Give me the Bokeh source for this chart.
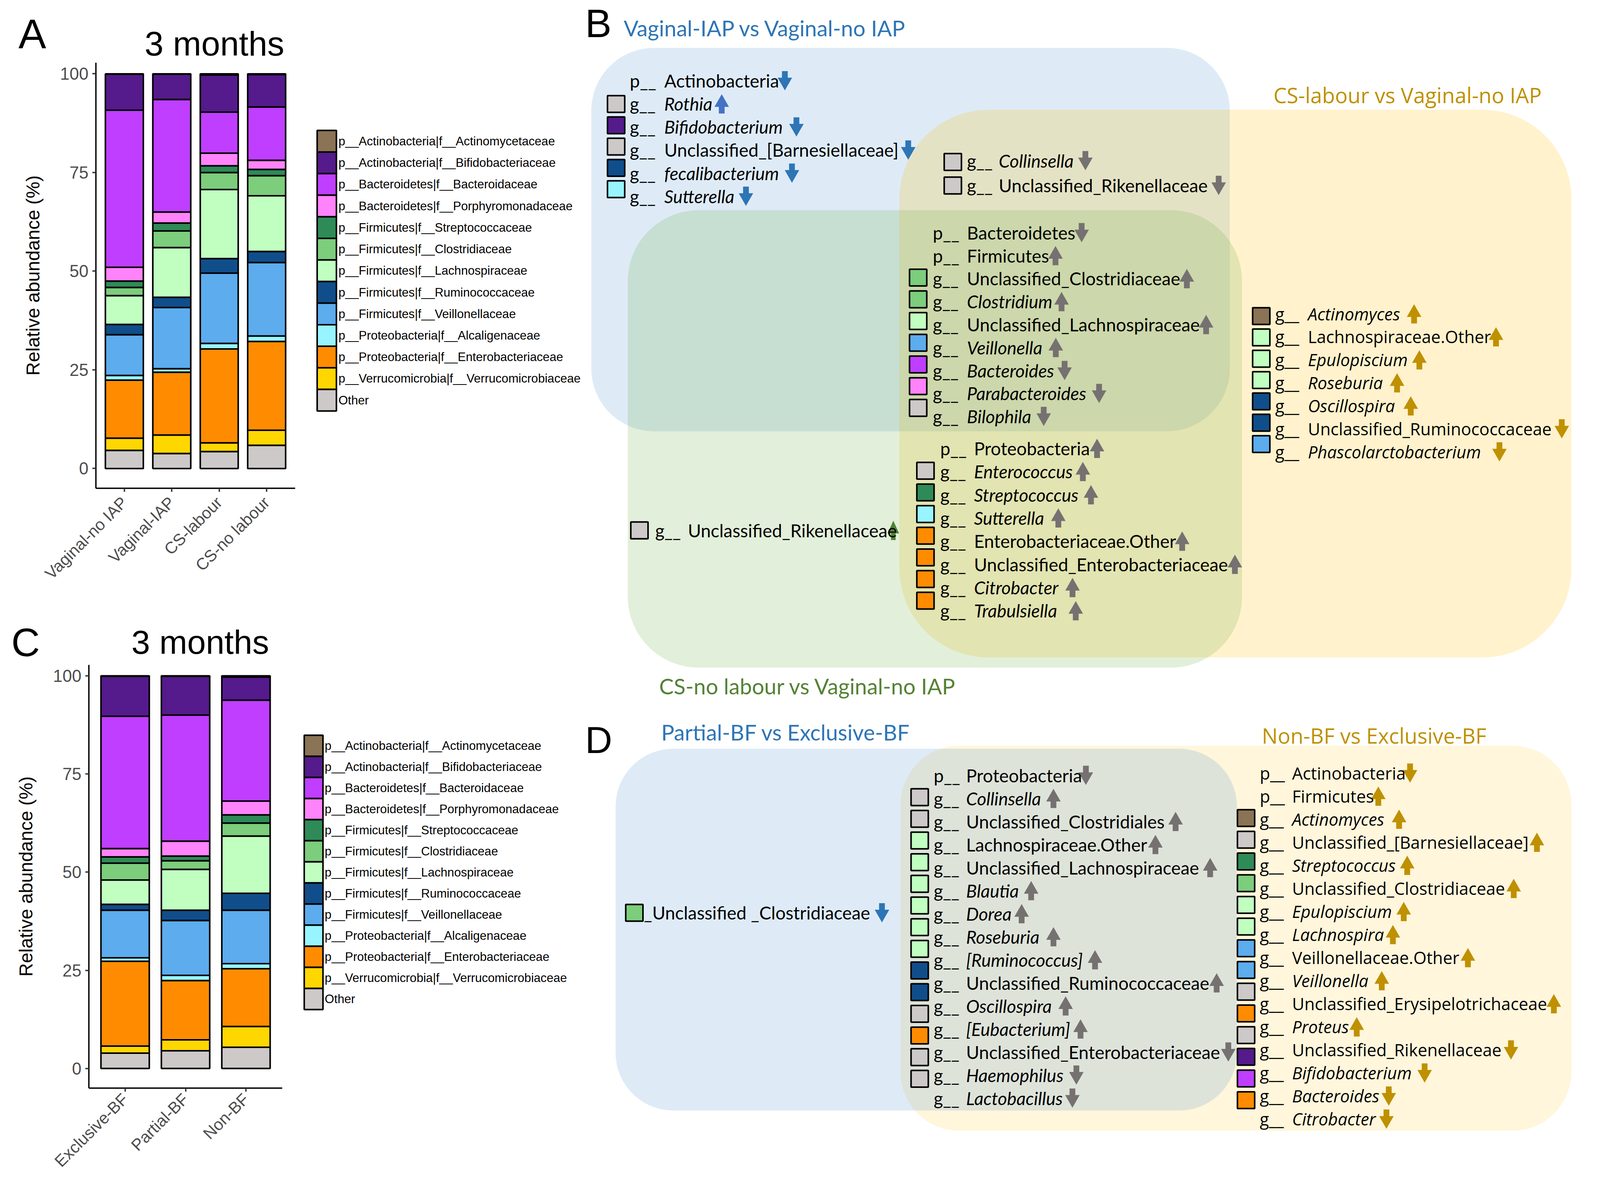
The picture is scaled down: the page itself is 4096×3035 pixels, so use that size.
import math
from bokeh.plotting import figure
from bokeh.models import Range1d, FixedTicker, ColumnDataSource
from bokeh.layouts import row, column
from bokeh.embed import file_html
from bokeh.resources import INLINE
from bokeh.core.properties import value

S = 2.595  # preview px -> page px

# ---------------- stacked-bar data ----------------
families = [
    "p__Actinobacteria|f__Actinomycetaceae",
    "p__Actinobacteria|f__Bifidobacteriaceae",
    "p__Bacteroidetes|f__Bacteroidaceae",
    "p__Bacteroidetes|f__Porphyromonadaceae",
    "p__Firmicutes|f__Streptococcaceae",
    "p__Firmicutes|f__Clostridiaceae",
    "p__Firmicutes|f__Lachnospiraceae",
    "p__Firmicutes|f__Ruminococcaceae",
    "p__Firmicutes|f__Veillonellaceae",
    "p__Proteobacteria|f__Alcaligenaceae",
    "p__Proteobacteria|f__Enterobacteriaceae",
    "p__Verrucomicrobia|f__Verrucomicrobiaceae",
    "Other",
]
family_colors = ["#8B7355", "#551A8B", "#BF3EFF", "#FF83FA", "#2E8B57", "#7CCD7C",
                 "#C1FFC1", "#104E8B", "#5CACEE", "#98F5FF", "#FF8C00", "#FFD700", "#CDC9C9"]
ACTINOMYC, BIFIDO, BACTEROID, PORPHYRO, STREP, CLOSTRID, LACHNO, RUMINO, VEILLON, ALCALIG, ENTERO, VERRUCO, OTHER = family_colors

delivery_groups = ["Vaginal-no IAP", "Vaginal-IAP", "CS-labour", "CS-no labour"]
vaginal_no_iap = [0.1, 9.1, 39.8, 3.5, 1.6, 2.1, 7.3, 2.6, 10.3, 1.2, 14.7, 3.1, 4.6]
vaginal_iap    = [0.1, 6.4, 28.5, 2.8, 2.0, 4.2, 12.6, 2.6, 15.5, 0.9, 15.9, 4.7, 3.8]
cs_labour      = [0.3, 9.4, 10.4, 3.2, 1.7, 4.3, 17.5, 3.7, 17.8, 1.4, 23.8, 2.2, 4.3]
cs_no_labour   = [0.2, 8.2, 13.5, 2.3, 1.6, 5.1, 14.1, 2.8, 18.6, 1.4, 22.5, 3.8, 5.9]

feeding_groups = ["Exclusive-BF", "Partial-BF", "Non-BF"]
exclusive_bf = [0.1, 10.2, 33.7, 2.1, 1.6, 4.3, 6.2, 1.5, 12.1, 0.9, 21.6, 1.8, 3.9]
partial_bf   = [0.1, 9.9, 32.1, 3.8, 1.2, 2.2, 10.4, 2.6, 14.0, 1.3, 15.1, 2.8, 4.5]
non_bf       = [0.3, 5.9, 25.7, 3.5, 2.1, 3.3, 14.6, 4.3, 13.6, 1.3, 14.7, 5.3, 5.4]

y_ticks = [0, 25, 50, 75, 100]

# ---------------- Venn-list data: (prefix, name, italic, square colour, direction) ----------------
B_vagIAP_only = [
    ("p__", "Actinobacteria", False, None, "down"),
    ("g__", "Rothia", True, OTHER, "up"),
    ("g__", "Bifidobacterium", True, BIFIDO, "down"),
    ("g__", "Unclassified_[Barnesiellaceae]", False, OTHER, "down"),
    ("g__", "fecalibacterium", True, RUMINO, "down"),
    ("g__", "Sutterella", True, ALCALIG, "down"),
]
B_vagIAP_cslabour = [
    ("g__", "Collinsella", True, OTHER, "down"),
    ("g__", "Unclassified_Rikenellaceae", False, OTHER, "down"),
]
B_all_three = [
    ("p__", "Bacteroidetes", False, None, "down"),
    ("p__", "Firmicutes", False, None, "up"),
    ("g__", "Unclassified_Clostridiaceae", False, CLOSTRID, "up"),
    ("g__", "Clostridium", True, CLOSTRID, "up"),
    ("g__", "Unclassified_Lachnospiraceae", False, LACHNO, "up"),
    ("g__", "Veillonella", True, VEILLON, "up"),
    ("g__", "Bacteroides", True, BACTEROID, "down"),
    ("g__", "Parabacteroides", True, PORPHYRO, "down"),
    ("g__", "Bilophila", True, OTHER, "down"),
]
B_cs_both = [
    ("p__", "Proteobacteria", False, None, "up"),
    ("g__", "Enterococcus", True, OTHER, "up"),
    ("g__", "Streptococcus", True, STREP, "up"),
    ("g__", "Sutterella", True, ALCALIG, "up"),
    ("g__", "Enterobacteriaceae.Other", False, ENTERO, "up"),
    ("g__", "Unclassified_Enterobacteriaceae", False, ENTERO, "up"),
    ("g__", "Citrobacter", True, ENTERO, "up"),
    ("g__", "Trabulsiella", True, ENTERO, "up"),
]
B_csnolabour_only = [("g__", "Unclassified_Rikenellaceae", False, OTHER, "up")]
B_cslabour_only = [
    ("g__", "Actinomyces", True, ACTINOMYC, "up"),
    ("g__", "Lachnospiraceae.Other", False, LACHNO, "up"),
    ("g__", "Epulopiscium", True, LACHNO, "up"),
    ("g__", "Roseburia", True, LACHNO, "up"),
    ("g__", "Oscillospira", True, RUMINO, "up"),
    ("g__", "Unclassified_Ruminococcaceae", False, RUMINO, "down"),
    ("g__", "Phascolarctobacterium", True, VEILLON, "down"),
]
D_partial_only = [("", "_Unclassified _Clostridiaceae", False, CLOSTRID, "down")]
D_both = [
    ("p__", "Proteobacteria", False, None, "down"),
    ("g__", "Collinsella", True, OTHER, "up"),
    ("g__", "Unclassified_Clostridiales", False, OTHER, "up"),
    ("g__", "Lachnospiraceae.Other", False, LACHNO, "up"),
    ("g__", "Unclassified_Lachnospiraceae", False, LACHNO, "up"),
    ("g__", "Blautia", True, LACHNO, "up"),
    ("g__", "Dorea", True, LACHNO, "up"),
    ("g__", "Roseburia", True, LACHNO, "up"),
    ("g__", "[Ruminococcus]", True, LACHNO, "up"),
    ("g__", "Unclassified_Ruminococcaceae", False, RUMINO, "up"),
    ("g__", "Oscillospira", True, RUMINO, "up"),
    ("g__", "[Eubacterium]", True, OTHER, "up"),
    ("g__", "Unclassified_Enterobacteriaceae", False, ENTERO, "down"),
    ("g__", "Haemophilus", True, OTHER, "down"),
    ("g__", "Lactobacillus", True, OTHER, "down"),
]
D_nonbf_only = [
    ("p__", "Actinobacteria", False, None, "down"),
    ("p__", "Firmicutes", False, None, "up"),
    ("g__", "Actinomyces", True, ACTINOMYC, "up"),
    ("g__", "Unclassified_[Barnesiellaceae]", False, OTHER, "up"),
    ("g__", "Streptococcus", True, STREP, "up"),
    ("g__", "Unclassified_Clostridiaceae", False, CLOSTRID, "up"),
    ("g__", "Epulopiscium", True, LACHNO, "up"),
    ("g__", "Lachnospira", True, LACHNO, "up"),
    ("g__", "Veillonellaceae.Other", False, VEILLON, "up"),
    ("g__", "Veillonella", True, VEILLON, "up"),
    ("g__", "Unclassified_Erysipelotrichaceae", False, OTHER, "up"),
    ("g__", "Proteus", True, ENTERO, "up"),
    ("g__", "Unclassified_Rikenellaceae", False, OTHER, "down"),
    ("g__", "Bifidobacterium", True, BIFIDO, "down"),
    ("g__", "Bacteroides", True, BACTEROID, "down"),
    ("g__", "Citrobacter", True, ENTERO, "down"),
]

# ---------------- layout (preview px) ----------------
BLUE_T, GOLD_T, GREEN_T, GRAY_A = "#2E75B6", "#BF9000", "#548235", "#767171"
CAL = "Lato"
VER = "Open Sans"
CAL_SIZE = 17.7
VER_SIZE = 16.7
CAL_TITLE = 21.5
VER_TITLE = 20.8

XL = 576          # split between left and right columns
Y_HA = 61.5       # header A bottom
Y_AC = 605        # split between panels A and C
Y_HC = 655.5      # header C bottom
Y_BD = 700        # split between panels B and D

PX = lambda v: round(v * S)
WL, WT, HT = PX(XL), PX(1568), PX(1162)


def fpx(v):
    return f"{v * S:.1f}px"


def canvas(x0, x1, y0, y1, W, H, bottom=0):
    return figure(width=W, height=H, x_range=Range1d(x0, x1), y_range=Range1d(y1, y0),
                  output_backend="svg", toolbar_location=None, x_axis_type=None,
                  y_axis_type=None, min_border=0, min_border_bottom=bottom,
                  outline_line_color=None, title=None,
                  background_fill_color="white", border_fill_color="white")


def bar_panel(groups, rows, fig_box, frame_box, label_size, label_standoff):
    fx0, fy0, fx1, fy1 = fig_box
    L, T, R, B = frame_box          # reference frame for range (-5, 105)
    n = len(groups)
    xr = (0.4, n + 0.6)
    W = PX(fx1) - PX(fx0)
    H = PX(fy1) - PX(fy0)
    left = PX(L) - PX(fx0)
    right = W - (PX(R) - PX(fx0))
    bottom = H - (PX(B) - PX(fy0))
    y_top = 105 - (fy0 - T) * 110.0 / (B - T)   # frame starts at figure top
    p = figure(width=W, height=H, x_range=Range1d(*xr), y_range=Range1d(-5, y_top),
               output_backend="svg", toolbar_location=None, title=None,
               min_border_left=left, min_border_right=right, min_border_top=0,
               min_border_bottom=bottom, outline_line_color=None,
               background_fill_color="white", border_fill_color="white")
    p.grid.visible = False
    keys = [f"f{i}" for i in range(len(families))]
    data = {"x": list(range(1, n + 1))}
    for i, k in enumerate(keys):
        data[k] = [r[i] for r in rows]
    src = ColumnDataSource(data)
    p.vbar_stack(keys[::-1], x="x", width=0.8, source=src,
                 fill_color=family_colors[::-1], line_color="black", line_width=4.0)
    xa = p.xaxis[0]
    ya = p.yaxis[0]
    xa.ticker = FixedTicker(ticks=list(range(1, n + 1)))
    xa.major_label_overrides = {i + 1: g for i, g in enumerate(groups)}
    xa.major_label_orientation = math.pi / 4
    ya.ticker = FixedTicker(ticks=y_ticks)
    for ax in (xa, ya):
        ax.axis_line_width = 3.5
        ax.axis_line_color = "black"
        ax.major_tick_line_width = 3.5
        ax.major_tick_line_color = "#333333"
        ax.major_tick_in = 0
        ax.major_tick_out = 9
        ax.minor_tick_line_color = None
        ax.major_label_text_font = "Liberation Sans"
        ax.major_label_text_color = "#4D4D4D"
    ya.major_label_text_font_size = fpx(16.8)
    xa.major_label_text_font_size = fpx(label_size)
    xa.major_label_standoff = label_standoff
    ya.major_label_standoff = 10
    ya.axis_label = "Relative abundance (%)"
    ya.axis_label_text_font = "Liberation Sans"
    ya.axis_label_text_font_size = fpx(18.5)
    ya.axis_label_text_font_style = "normal"
    ya.axis_label_text_color = "black"
    ya.axis_label_standoff = 40
    return p, W, H, bottom


def legend_panel(x0, x1, y0, y1, W, H, bottom, box_x, box_w, first_y, step, text_x, size):
    p = canvas(x0, x1, y0, y1, W, H, bottom=bottom)
    ys = [first_y + i * step for i in range(len(families))]
    p.rect(x=[box_x] * len(families), y=ys, width=box_w, height=step,
           fill_color=family_colors, line_color="black", line_width=4)
    p.text(x=[text_x] * len(families), y=ys, text=families, text_font=value("Liberation Sans"),
           text_font_size=value(fpx(size)), text_baseline="middle", text_align="left",
           text_color="black")
    return p


def rounded_rect(x0, y0, x1, y1, r, n=24):
    xs, ys = [], []
    for cx, cy, a0, a1 in [(x1 - r, y0 + r, -90, 0), (x1 - r, y1 - r, 0, 90),
                           (x0 + r, y1 - r, 90, 180), (x0 + r, y0 + r, 180, 270)]:
        for k in range(n + 1):
            a = math.radians(a0 + (a1 - a0) * k / n)
            xs.append(cx + r * math.cos(a))
            ys.append(cy + r * math.sin(a))
    return xs, ys


def arrow_poly(cx, cy, direction, scale=1.0):
    hw, sw = 7.15 * scale, 2.85 * scale
    hh, tot = 12.5, 19.0
    top = cy - tot / 2
    pts = [(cx, top), (cx + hw, top + hh), (cx + sw, top + hh), (cx + sw, top + tot),
           (cx - sw, top + tot), (cx - sw, top + hh), (cx - hw, top + hh)]
    if direction == "down":
        pts = [(x, 2 * cy - y) for x, y in pts]
    return [q[0] for q in pts], [q[1] for q in pts]


def draw_group(p, items, lay):
    n = len(items)
    ys = [lay["y0"] + i * lay["dy"] for i in range(n)]
    fs = value(fpx(lay["size"]))
    sq = [it[3] for it in items if it[3] is not None]
    if sq:
        sq_y = [lay["sq_y0"] + k * lay["sq_dy"] for k in range(len(sq))]
        p.rect(x=[lay["sq_x"]] * len(sq), y=sq_y, width=17, height=16.5, fill_color=sq,
               line_color="black", line_width=4)
    axs, ays = [], []
    for it, ax, y in zip(items, lay["arrow_x"], ys):
        a, b = arrow_poly(ax, y, it[4], lay.get("arrow_scale", 1.0))
        axs.append(a)
        ays.append(b)
    cols = lay["arrow_color"] if isinstance(lay["arrow_color"], list) else [lay["arrow_color"]] * n
    p.patches(axs, ays, fill_color=cols, line_color=None)
    p.text(x=[lay["prefix_x"]] * n, y=ys, text=[it[0] for it in items],
           text_font=value(lay["font"]), text_font_size=fs, text_baseline="middle",
           text_align="left", text_color="black")
    for ital in (False, True):
        sel = [(it[1], y) for it, y in zip(items, ys) if it[2] == ital]
        if sel:
            p.text(x=[lay["name_x"]] * len(sel), y=[s_[1] for s_ in sel],
                   text=[s_[0] for s_ in sel], text_font=value(lay["font"]),
                   text_font_size=fs, text_baseline="middle", text_align="left",
                   text_color="black", text_font_style="italic" if ital else "normal")


def title_text(p, x, y, txt, font, size, color):
    p.text(x=[x], y=[y], text=[txt], text_font=value(font), text_font_size=value(fpx(size)),
           text_baseline="middle", text_align="left", text_color=color)


# ---------------- panel A ----------------
hdrA = canvas(0, XL, 0, Y_HA, WL, PX(Y_HA))
title_text(hdrA, 18, 33, "A", "Liberation Sans", 41, "black")
title_text(hdrA, 142.5, 42.5, "3 months", "Liberation Sans", 33.5, "black")

figA, wA, hA, botA = bar_panel(delivery_groups,
                               [vaginal_no_iap, vaginal_iap, cs_labour, cs_no_labour],
                               (0, Y_HA, 300, Y_AC), (94.3, 53, 290.8, 481.5), 16.2, 20)
legA = legend_panel(300, XL, Y_HA, 481.5, WL - wA, hA, botA, 322, 19, 139.0, 21.3, 333.5, 12.0)

# ---------------- panel C ----------------
hdrC = canvas(0, XL, Y_AC, Y_HC, WL, PX(Y_HC) - PX(Y_AC))
title_text(hdrC, 11, 633, "C", "Liberation Sans", 39, "black")
title_text(hdrC, 129.5, 633, "3 months", "Liberation Sans", 33, "black")

figC, wC, hC, botC = bar_panel(feeding_groups, [exclusive_bf, partial_bf, non_bf],
                               (0, Y_HC, 295, 1162), (87.3, 646.9, 278.3, 1073.6), 16.2, 12)
legC = legend_panel(295, XL, Y_HC, 1073.6, WL - wC, hC, botC, 309, 18.5, 735.4, 20.85, 320, 12.0)

# ---------------- panel B ----------------
figB = canvas(XL, 1568, 0, Y_BD, WT - WL, PX(Y_BD))
for (bx, alpha, colr) in [((583, 47, 1213, 425, 62), 0.2, "#5B9BD5"),
                          ((887, 108, 1550, 648, 88), 0.2, "#FFC000"),
                          ((619, 207, 1225, 658, 70), 0.2, "#70AD47")]:
    xs, ys = rounded_rect(*bx)
    figB.patch(xs, ys, fill_color=colr, fill_alpha=alpha, line_color=None)

draw_group(figB, B_vagIAP_only, dict(font=CAL, size=CAL_SIZE, prefix_x=621, name_x=655,
           y0=79.4, dy=22.78, sq_x=607.5, sq_y0=102.3, sq_dy=21.0,
           arrow_x=[774, 711.7, 785.4, 895.7, 781, 735.6],
           arrow_color=[BLUE_T, "#4472C4", BLUE_T, BLUE_T, BLUE_T, BLUE_T]))
draw_group(figB, B_vagIAP_cslabour, dict(font=CAL, size=CAL_SIZE, prefix_x=953.6, name_x=985,
           y0=158.2, dy=24.4, sq_x=939.7, sq_y0=159.5, sq_dy=23.2,
           arrow_x=[1070.5, 1202], arrow_color=GRAY_A))
draw_group(figB, B_all_three, dict(font=CAL, size=CAL_SIZE, prefix_x=920, name_x=953.6,
           y0=229.2, dy=22.64, sq_x=905.5, sq_y0=273.5, sq_dy=21.4,
           arrow_x=[1066.8, 1041, 1170.6, 1047, 1189.6, 1041.3, 1050, 1084, 1029.4],
           arrow_color=GRAY_A))
draw_group(figB, B_cs_both, dict(font=CAL, size=CAL_SIZE, prefix_x=927.3, name_x=960.6,
           y0=441.8, dy=22.87, sq_x=912.7, sq_y0=463.9, sq_dy=21.35,
           arrow_x=[1082, 1068, 1076, 1043.8, 1166, 1218, 1057.8, 1061],
           arrow_color=GRAY_A))
draw_group(figB, B_csnolabour_only, dict(font=CAL, size=CAL_SIZE, prefix_x=646, name_x=678.3,
           y0=522.7, dy=22.8, sq_x=630.5, sq_y0=522.7, sq_dy=21.0,
           arrow_x=[881], arrow_color=GREEN_T, arrow_scale=0.8))
draw_group(figB, B_cslabour_only, dict(font=VER, size=VER_SIZE, prefix_x=1257.8, name_x=1290,
           y0=309.2, dy=22.68, sq_x=1244, sq_y0=311.4, sq_dy=21.03,
           arrow_x=[1394.8, 1475.6, 1400, 1378, 1391.5, 1540.5, 1479], arrow_color=GOLD_T))

title_text(figB, 577, 22.8, "B", "Liberation Sans", 39, "black")
title_text(figB, 615, 27.2, "Vaginal-IAP vs Vaginal-no IAP", CAL, CAL_TITLE, BLUE_T)
title_text(figB, 1256, 93.3, "CS-labour vs Vaginal-no IAP", VER, VER_TITLE, GOLD_T)
title_text(figB, 650, 676, "CS-no labour vs Vaginal-no IAP", CAL, CAL_TITLE, GREEN_T)

# ---------------- panel D ----------------
figD = canvas(XL, 1568, Y_BD, 1162, WT - WL, HT - PX(Y_BD))
for (bx, alpha, colr) in [((888, 735, 1550, 1115, 58), 0.14, "#FFC000"),
                          ((607, 738, 1220, 1095, 57), 0.2, "#5B9BD5")]:
    xs, ys = rounded_rect(*bx)
    figD.patch(xs, ys, fill_color=colr, fill_alpha=alpha, line_color=None)

draw_group(figD, D_partial_only, dict(font=CAL, size=CAL_SIZE, prefix_x=635, name_x=635,
           y0=899.9, dy=22.8, sq_x=625.5, sq_y0=899.9, sq_dy=21.0,
           arrow_x=[869.8], arrow_color=BLUE_T))
draw_group(figD, D_both, dict(font=CAL, size=CAL_SIZE, prefix_x=920.8, name_x=952.8,
           y0=764.3, dy=22.75, sq_x=907, sq_y0=785.8, sq_dy=21.38,
           arrow_x=[1071, 1039, 1159.5, 1139.6, 1193.6, 1017, 1007.6, 1039, 1080, 1200,
                    1051, 1065.7, 1211.5, 1061.6, 1057.7],
           arrow_color=GRAY_A))
draw_group(figD, D_nonbf_only, dict(font=VER, size=VER_SIZE, prefix_x=1242.5, name_x=1274.4,
           y0=762, dy=22.77, sq_x=1229, sq_y0=806.4, sq_dy=21.42,
           arrow_x=[1390.8, 1359.5, 1380, 1516, 1388, 1493.1, 1384.6, 1373.9, 1447.9, 1362.9,
                    1532.7, 1338.2, 1490.4, 1405.2, 1369.8, 1367.5],
           arrow_color=GOLD_T))

title_text(figD, 577, 729.4, "D", "Liberation Sans", 37, "black")
title_text(figD, 652, 721.6, "Partial-BF vs Exclusive-BF", CAL, CAL_TITLE, BLUE_T)
title_text(figD, 1244.6, 724.8, "Non-BF vs Exclusive-BF", VER, VER_TITLE, GOLD_T)

left_col = column(hdrA, row(figA, legA), hdrC, row(figC, legC))
right_col = column(figB, figD)
layout = row(left_col, right_col)
open("out.html", "w").write(file_html(layout, INLINE))
